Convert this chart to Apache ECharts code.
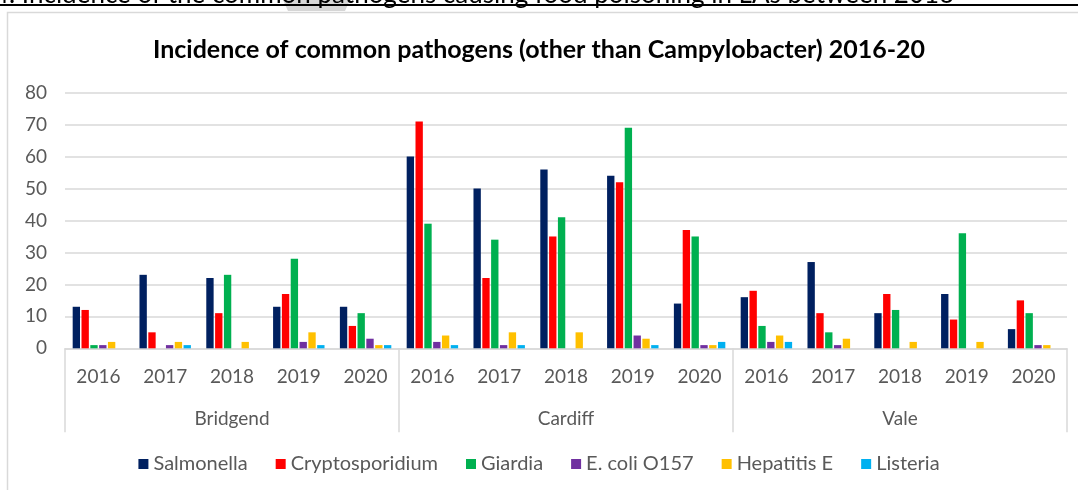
<!DOCTYPE html>
<html>
<head>
<meta charset="utf-8">
<script src="https://cdn.jsdelivr.net/npm/echarts@6/dist/echarts.min.js"></script>
<style>
  html, body { margin: 0; padding: 0; background: #fff; }
  #chart { width: 1078px; height: 490px; }
</style>
</head>
<body>
<div id="chart"></div>
<script>
// categories
const years = ['2016', '2017', '2018', '2019', '2020'];
const regions = ['Bridgend', 'Cardiff', 'Vale'];
const yearLabels = [].concat(years, years, years);

// series values, Bridgend 2016-20, Cardiff 2016-20, Vale 2016-20
const salmonella      = [13, 23, 22, 13, 13, 60, 50, 56, 54, 14, 16, 27, 11, 17, 6];
const cryptosporidium = [12, 5, 11, 17, 7, 71, 22, 35, 52, 37, 18, 11, 17, 9, 15];
const giardia         = [1, 0, 23, 28, 11, 39, 34, 41, 69, 35, 7, 5, 12, 36, 11];
const ecoli           = [1, 1, 0, 2, 3, 2, 1, 0, 4, 1, 2, 1, 0, 0, 1];
const hepatitisE      = [2, 2, 2, 5, 1, 4, 5, 5, 3, 1, 4, 3, 2, 2, 1];
const listeria        = [0, 1, 0, 1, 1, 1, 1, 0, 1, 2, 2, 0, 0, 0, 0];

const seriesNames = ['Salmonella', 'Cryptosporidium', 'Giardia', 'E. coli O157', 'Hepatitis E', 'Listeria'];
const seriesData = [salmonella, cryptosporidium, giardia, ecoli, hepatitisE, listeria];
const colors = ['#002060', '#FF0000', '#00B050', '#7030A0', '#FFC000', '#00B0F0'];

const font = 'Lato, "Open Sans", sans-serif';
const grey = '#595959';
const lineGrey = '#d9d9d9';

const chart = echarts.init(document.getElementById('chart'));

chart.setOption({
  animation: false,
  color: colors,
  textStyle: { fontFamily: font },
  title: {
    text: 'Incidence of common pathogens (other than Campylobacter) 2016-20',
    left: 'center',
    top: 32,
    textStyle: { fontSize: 25, fontWeight: 'bold', color: '#000', fontFamily: font }
  },
  graphic: [
    {
      type: 'rect',
      shape: { x: 7.5, y: 12.5, width: 1100, height: 500 },
      style: { fill: null, stroke: lineGrey, lineWidth: 1.5 },
      silent: true
    },
    {
      type: 'polygon',
      shape: { points: [[283, 0], [350, 0], [345, 11], [288, 11]] },
      style: { fill: '#d6d6d6' },
      silent: true
    },
    {
      type: 'text',
      style: {
        x: -6, y: 8,
        text: '4. Incidence of the common pathogens causing food poisoning in LAs between 2016',
        font: '26px ' + font,
        fill: '#000',
        verticalAlign: 'bottom'
      },
      silent: true
    },
    {
      type: 'line',
      shape: { x1: 0, y1: 5, x2: 1078, y2: 5 },
      style: { stroke: '#000', lineWidth: 2 },
      silent: true
    }
  ],
  legend: {
    data: seriesNames,
    bottom: 11,
    left: 'center',
    itemWidth: 10,
    itemHeight: 10,
    itemGap: 28,
    icon: 'rect',
    textStyle: { fontSize: 20, color: grey, fontFamily: font }
  },
  grid: { left: 65, right: 11, top: 92.7, bottom: 141.7 },
  xAxis: [
    {
      type: 'category',
      data: yearLabels,
      position: 'bottom',
      axisLine: { lineStyle: { color: lineGrey, width: 1.5 } },
      axisTick: { show: false },
      axisLabel: { interval: 0, margin: 19, fontSize: 19, color: grey, fontFamily: font }
    },
    {
      type: 'category',
      data: regions,
      position: 'bottom',
      axisLine: { show: false },
      axisTick: { show: true, length: 84, lineStyle: { color: lineGrey, width: 1.5 } },
      axisLabel: { interval: 0, margin: 61, fontSize: 19, color: grey, fontFamily: font }
    }
  ],
  yAxis: {
    type: 'value',
    min: 0,
    max: 80,
    interval: 10,
    axisLine: { show: false },
    axisTick: { show: false },
    axisLabel: { margin: 18, fontSize: 19, color: grey, fontFamily: font },
    splitLine: { lineStyle: { color: lineGrey, width: 1.5 } }
  },
  series: seriesNames.map((name, i) => ({
    name: name,
    type: 'bar',
    xAxisIndex: 0,
    data: seriesData[i],
    barCategoryGap: '23%',
    barGap: '20%'
  }))
});
</script>
</body>
</html>
